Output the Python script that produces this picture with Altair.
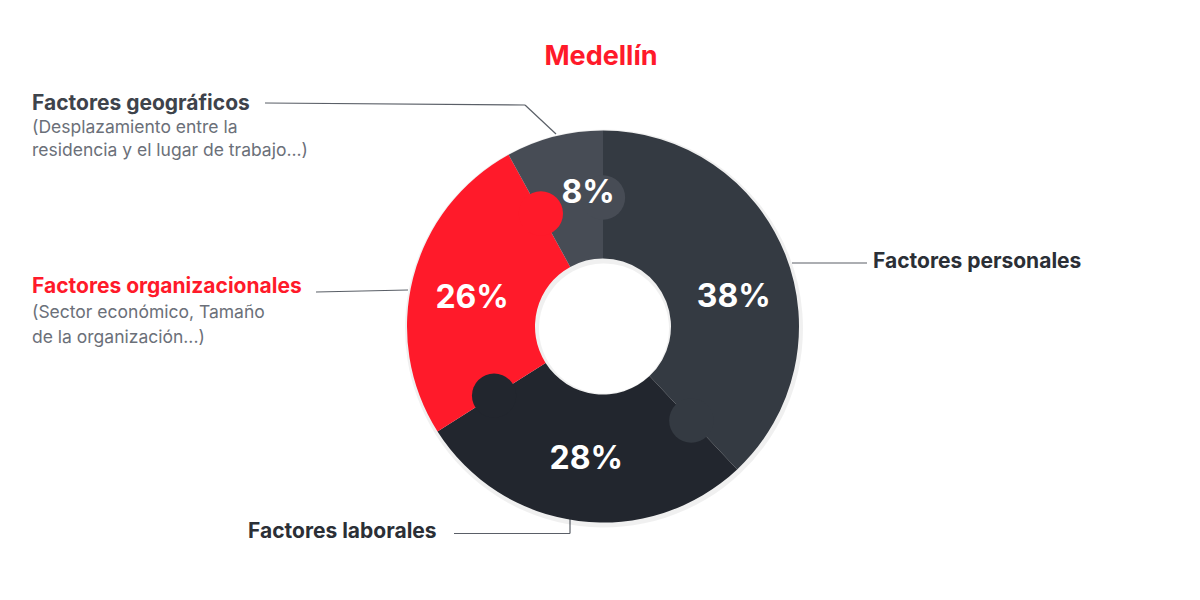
import math
import altair as alt
import pandas as pd

# ---- data ----
categories = ["Factores personales", "Factores laborales", "Factores organizacionales", "Factores geográficos"]
values = [38, 28, 26, 8]
colors = ["#343a42", "#22262e", "#ff1a2a", "#474c55"]
pct_labels = ["38%", "28%", "26%", "8%"]

title_text = "Medellín"
sub_geo = ["(Desplazamiento entre la", "residencia y el lugar de trabajo...)"]
sub_org = ["(Sector económico, Tamaño", "de la organización...)"]

# ---- layout (pixel coordinates inside the view) ----
OFF = 8
CX, CY = 603 - OFF, 326.5 - OFF
R_OUT, R_IN = 196, 68
R_KNOB_POS, R_KNOB = 129, 25
R_LABEL = 134
FONT = "Inter"

total = sum(values)
cum = []
s = 0
for v in values:
    cum.append(s)
    s += v

donut = pd.DataFrame({"cat": categories, "value": values, "order": list(range(len(values)))})

color_scale = alt.Scale(domain=categories, range=colors)

shadow = alt.Chart(donut).mark_arc(outerRadius=R_OUT + 3, innerRadius=R_IN - 3,
                                   color="#000000", opacity=0.06).encode(
    theta=alt.Theta("value:Q", stack=True),
    order=alt.Order("order:Q"),
    x=alt.value(CX + 1),
    y=alt.value(CY + 2),
)

arcs = alt.Chart(donut).mark_arc(outerRadius=R_OUT, innerRadius=R_IN).encode(
    theta=alt.Theta("value:Q", stack=True),
    order=alt.Order("order:Q"),
    color=alt.Color("cat:N", scale=color_scale, legend=None),
    x=alt.value(CX),
    y=alt.value(CY),
)

# knobs: at the clockwise end of each segment, same colour as segment
kx, ky, kc = [], [], []
for i, v in enumerate(values):
    a = (cum[i] + v) / total * 2 * math.pi
    kx.append(CX + R_KNOB_POS * math.sin(a))
    ky.append(CY - R_KNOB_POS * math.cos(a))
    kc.append(categories[i])
knobs_df = pd.DataFrame({"x": kx, "y": ky, "cat": kc})
knobs = alt.Chart(knobs_df).mark_circle(size=math.pi * R_KNOB ** 2, opacity=1).encode(
    x=alt.X("x:Q", scale=None, axis=None),
    y=alt.Y("y:Q", scale=None, axis=None),
    color=alt.Color("cat:N", scale=color_scale, legend=None),
)

# percentage labels at mid angles
lx, ly = [], []
angle_adj = [9, 0, -2, 8]  # small visual nudges (degrees)
for i, v in enumerate(values):
    a = math.radians((cum[i] + v / 2) / total * 360 + angle_adj[i])
    lx.append(CX + R_LABEL * math.sin(a))
    ly.append(CY - R_LABEL * math.cos(a))
pct_df = pd.DataFrame({"x": lx, "y": ly, "t": pct_labels})
pct = alt.Chart(pct_df).mark_text(font=FONT, fontSize=32, fontWeight=700, color="white",
                                  align="center", baseline="middle").encode(
    x=alt.X("x:Q", scale=None, axis=None),
    y=alt.Y("y:Q", scale=None, axis=None),
    text="t:N",
)

# annotation texts
ann = pd.DataFrame({
    "x": [601, 873, 248, 32, 32, 32, 32, 32, 32],
    "y": [57, 262, 532, 104, 128, 151, 287, 313, 338],
    "t": [title_text, categories[0], categories[1], categories[3], sub_geo[0], sub_geo[1],
          categories[2], sub_org[0], sub_org[1]],
    "kind": ["title", "head", "head", "headgeo", "sub", "sub", "headred", "sub", "sub"],
})
ann["x"] = ann["x"] - OFF
ann["y"] = ann["y"] - OFF

def txt(kind, **kw):
    return alt.Chart(ann[ann.kind == kind]).mark_text(font=FONT, baseline="middle", **kw).encode(
        x=alt.X("x:Q", scale=None, axis=None),
        y=alt.Y("y:Q", scale=None, axis=None),
        text="t:N",
    )

title = txt("title", fontSize=27, fontWeight=700, color="#ff1a2a", align="center")
heads = txt("head", fontSize=21, fontWeight=700, color="#2b2f36", align="left")
headgeo = txt("headgeo", fontSize=21, fontWeight=700, color="#3e434b", align="left")
headred = txt("headred", fontSize=21, fontWeight=700, color="#ff1a2a", align="left")
subs = txt("sub", fontSize=17.5, fontWeight=400, color="#6b7079", align="left")

# leader lines
lines = pd.DataFrame({
    "x":  [792, 454, 570, 316, 265, 525],
    "y":  [263, 533.5, 533.5, 292, 103, 105],
    "x2": [867, 570, 570, 408, 525, 556],
    "y2": [263, 533.5, 519, 290, 105, 134],
})
for c in ["x", "y", "x2", "y2"]:
    lines[c] = lines[c] - OFF
leaders = alt.Chart(lines).mark_rule(color="#5a5f67", strokeWidth=1.2).encode(
    x=alt.X("x:Q", scale=None, axis=None),
    y=alt.Y("y:Q", scale=None, axis=None),
    x2="x2:Q",
    y2="y2:Q",
)

chart = alt.layer(leaders, shadow, arcs, knobs, pct, title, heads, headgeo, headred, subs).properties(
    width=1176, height=576, padding=0,
    autosize=alt.AutoSizeParams(type="none"),
).configure_view(strokeOpacity=0, strokeWidth=0, stroke="#ffffff")

chart.save("out.html", embed_options={"renderer": "svg", "actions": False})
